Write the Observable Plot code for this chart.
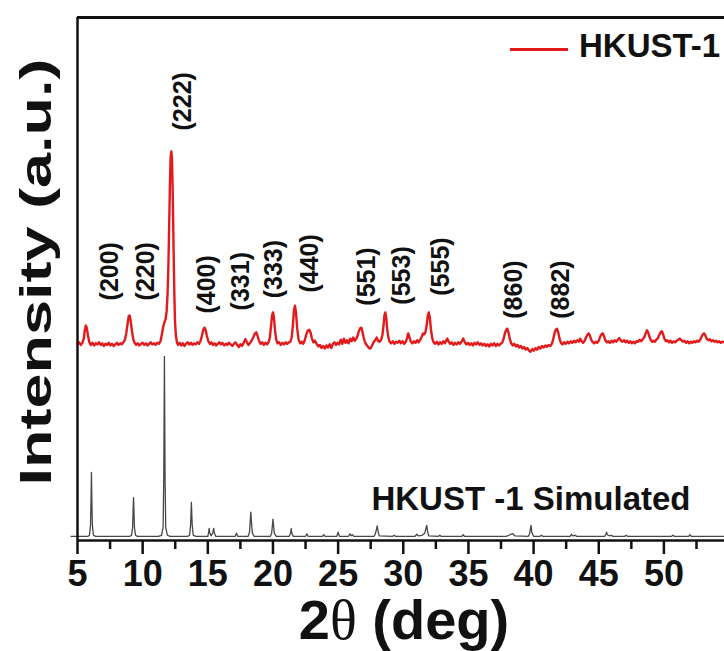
<!DOCTYPE html>
<html><head><meta charset="utf-8">
<script src="https://cdn.jsdelivr.net/npm/d3@7"></script>
<script src="https://cdn.jsdelivr.net/npm/@observablehq/plot@0.6"></script>
<style>
body{margin:0;background:#fff;}
#wrap{position:relative;width:724px;height:651px;overflow:hidden;font-family:"Liberation Sans",Arial,sans-serif;}
#legLine{position:absolute;left:510px;top:48px;width:58px;height:2.5px;background:#e31a1c;}
#legText{position:absolute;left:579px;top:27px;font-weight:bold;font-size:33px;color:#111;line-height:normal;}
</style></head><body>
<div id="wrap"><div id="legLine"></div><div id="legText">HKUST-1</div></div>
<script>
// ---- data (2θ in degrees, intensity in a.u.) ----
const majorTicks = [5, 10, 15, 20, 25, 30, 35, 40, 45, 50];
const minorTicks = [7.5, 12.5, 17.5, 22.5, 27.5, 32.5, 37.5, 42.5, 47.5, 52.5];

const hklLabels = ["(200)","(220)","(222)","(400)","(331)","(333)","(440)","(551)","(553)","(555)","(860)","(882)"];
const hklTheta  = [7.53, 10.29, 13.13, 14.9, 17.58, 20.11, 22.87, 27.24, 29.93, 32.92, 38.51, 42.12];
const hklInt    = [45.9, 45.9, 78.4, 43.4, 44.0, 46.3, 47.4, 44.9, 45.1, 46.8, 42.4, 42.4];

const seriesNames = ["HKUST-1", "HKUST -1 Simulated"];

// measured HKUST-1 pattern [2θ, intensity]
const redPattern = [
[5.0,37.6],[5.12,37.9],[5.25,37.4],[5.38,37.8],[5.48,38.6],[5.56,40.2],[5.64,41.1],[5.72,40.6],[5.8,39.2],[5.9,38.0],[6.02,37.4],[6.15,37.8],[6.28,37.3],[6.4,37.7],[6.52,37.5],[6.65,37.9],[6.78,37.4],[6.9,37.7],[7.02,37.2],[7.15,37.6],[7.28,37.4],[7.4,37.8],[7.52,37.3],[7.65,37.6],[7.78,37.2],[7.9,37.5],[8.02,37.8],[8.15,37.4],[8.28,37.7],[8.4,37.5],[8.52,37.9],[8.64,38.4],[8.74,39.6],[8.84,41.4],[8.93,42.9],[9.0,43.0],[9.08,42.0],[9.17,40.2],[9.27,38.6],[9.38,37.8],[9.5,37.4],[9.62,37.7],[9.75,37.3],[9.88,37.6],[10.0,37.8],[10.12,37.4],[10.25,37.7],[10.38,37.3],[10.5,37.6],[10.62,37.9],[10.75,37.5],[10.88,37.7],[11.0,37.4],[11.12,37.8],[11.25,37.6],[11.38,38.2],[11.48,39.5],[11.58,40.9],[11.68,41.8],[11.76,42.3],[11.84,43.8],[11.91,47.0],[11.98,53.0],[12.04,61.0],[12.1,69.0],[12.15,73.4],[12.2,74.4],[12.25,73.0],[12.3,67.5],[12.36,58.0],[12.42,48.5],[12.48,42.0],[12.55,39.2],[12.63,37.9],[12.72,37.4],
[12.84,37.8],[12.96,37.3],[13.08,37.7],[13.2,37.2],[13.32,37.6],[13.45,37.9],[13.58,37.5],[13.7,37.8],[13.82,37.4],[13.95,37.7],[14.08,37.5],[14.2,37.9],[14.32,37.6],[14.45,38.2],[14.55,39.2],[14.65,40.3],[14.74,40.7],[14.83,40.3],[14.93,39.1],[15.04,38.1],[15.16,37.6],[15.28,37.9],[15.4,37.4],[15.52,37.7],[15.64,37.3],[15.76,37.6],[15.88,37.9],[16.0,37.5],[16.12,37.8],[16.25,37.3],[16.38,37.6],[16.5,37.4],[16.62,37.8],[16.75,37.5],[16.88,37.2],[17.0,37.6],[17.12,37.9],[17.25,37.4],[17.38,37.0],[17.5,37.5],[17.62,37.2],[17.75,37.8],[17.88,38.5],[18.0,37.9],[18.12,37.4],[18.25,37.8],[18.38,38.3],[18.5,38.9],[18.62,39.6],[18.72,39.8],[18.82,39.1],[18.93,38.2],[19.05,37.6],[19.18,37.9],[19.3,37.4],[19.42,37.8],[19.55,37.5],[19.66,37.9],[19.76,38.8],[19.85,41.0],[19.93,43.0],[20.0,43.6],[20.07,42.8],[20.15,40.4],[20.24,38.5],[20.35,37.7],[20.47,37.9],[20.6,37.4],[20.72,37.8],[20.85,37.5],[20.98,37.9],[21.1,37.6],[21.22,37.9],[21.34,38.0],[21.44,38.9],[21.53,41.2],[21.61,44.0],[21.69,44.9],[21.77,43.5],[21.86,40.5],[21.96,38.5],[22.08,37.7],[22.2,38.0],[22.32,37.6],[22.44,38.3],[22.55,39.3],[22.66,40.1],[22.78,40.3],[22.88,39.8],[22.98,38.7],
[23.1,37.9],[23.22,38.2],[23.35,37.6],[23.48,37.1],[23.6,37.4],[23.72,36.8],[23.85,37.2],[23.98,36.7],[24.1,37.3],[24.22,36.9],[24.35,37.5],[24.48,36.8],[24.6,37.6],[24.72,37.9],[24.84,37.4],[24.96,37.8],[25.08,37.5],[25.2,38.4],[25.32,37.6],[25.44,38.6],[25.56,37.8],[25.68,38.3],[25.8,37.7],[25.92,38.6],[26.04,38.1],[26.16,38.8],[26.28,38.2],[26.4,38.6],[26.5,39.2],[26.6,40.1],[26.7,40.6],[26.78,40.7],[26.86,40.0],[26.95,38.9],[27.05,38.0],[27.15,37.5],[27.25,37.2],[27.37,36.8],[27.48,36.7],[27.6,37.3],[27.72,37.9],[27.84,38.3],[27.96,38.8],[28.06,38.2],[28.18,38.0],[28.3,38.4],[28.4,39.3],[28.48,41.0],[28.55,43.0],[28.62,43.6],[28.69,42.7],[28.76,40.6],[28.85,38.9],[28.95,38.0],[29.07,37.7],[29.2,38.1],[29.32,37.6],[29.45,38.0],[29.57,37.8],[29.7,38.2],[29.82,37.7],[29.95,38.1],[30.07,37.6],[30.2,38.0],[30.3,38.8],[30.38,39.6],[30.47,38.9],[30.58,38.0],[30.7,37.7],[30.82,38.1],[30.94,37.8],[31.06,38.3],[31.18,37.9],[31.3,38.4],[31.42,39.0],[31.52,39.6],[31.6,39.4],[31.7,39.8],[31.8,41.2],[31.88,43.0],[31.96,43.6],[32.04,42.6],[32.12,40.4],[32.22,38.7],[32.33,37.9],[32.45,37.6],[32.58,38.0],[32.7,37.5],[32.83,37.9],[32.95,37.6],[33.08,38.1],[33.2,37.7],[33.3,38.3],[33.38,38.6],[33.48,38.0],[33.6,37.6],[33.72,37.9],[33.85,37.4],[33.97,37.8],[34.1,37.5],[34.22,37.9],[34.35,37.6],[34.47,38.0],[34.6,38.6],[34.72,37.9],[34.85,37.5],[34.97,37.8],[35.1,37.4],[35.22,37.7],[35.35,37.3],[35.47,37.8],[35.6,37.5],[35.72,37.9],[35.85,37.4],[35.97,37.7],[36.1,37.3],[36.22,37.6],[36.35,37.2],[36.47,37.5],[36.6,37.1],[36.72,37.6],[36.85,37.3],[36.97,37.7],[37.1,37.2],[37.22,37.6],[37.35,37.3],[37.47,37.6],[37.6,37.9],[37.7,38.6],[37.8,39.6],[37.9,40.3],[37.98,40.5],[38.07,39.8],[38.17,38.6],[38.28,37.7],[38.4,37.3],[38.52,37.6],[38.65,37.1],[38.77,37.4],[38.9,36.9],[39.02,37.2],[39.15,36.7],[39.27,37.0],[39.4,36.5],[39.52,36.8],[39.65,36.3],[39.77,36.1],[39.9,36.6],[40.02,36.3],[40.15,36.8],[40.27,36.5],[40.4,37.0],[40.52,36.7],[40.65,37.2],[40.77,36.9],[40.9,37.3],[41.02,37.0],[41.15,37.4],[41.28,37.2],[41.4,37.6],[41.5,38.4],[41.6,39.6],[41.7,40.3],[41.8,40.5],[41.9,39.7],[42.0,38.5],[42.1,37.8],[42.22,37.5],[42.35,37.9],[42.47,37.6],[42.6,38.0],[42.72,37.7],[42.85,38.1],[42.97,37.8],[43.1,38.2],[43.22,37.9],[43.35,38.3],[43.47,38.0],[43.57,38.6],[43.68,38.1],[43.8,37.8],[43.92,38.2],[44.02,38.8],[44.12,39.3],[44.22,39.6],[44.32,39.2],[44.42,38.4],[44.52,38.0],[44.64,37.7],[44.76,38.0],[44.88,37.8],[45.0,38.2],[45.1,38.9],[45.2,39.4],[45.3,39.6],[45.4,39.1],[45.5,38.3],[45.62,37.9],[45.74,38.1],[45.86,37.8],[45.98,38.2],[46.1,37.9],[46.22,38.3],[46.34,38.0],[46.46,38.4],[46.58,38.7],[46.7,38.2],[46.82,38.0],[46.94,38.3],[47.06,37.9],[47.18,38.2],[47.3,37.8],[47.42,38.1],[47.54,37.7],[47.66,38.0],[47.78,37.7],[47.9,38.1],[48.02,38.0],[48.14,38.4],[48.26,38.1],[48.38,38.5],[48.5,38.9],[48.6,39.6],[48.7,40.2],[48.8,39.7],[48.9,38.9],[49.0,38.3],[49.1,38.0],[49.2,38.2],[49.3,38.0],[49.42,38.4],[49.54,38.7],[49.64,39.3],[49.74,39.8],[49.84,40.0],[49.94,39.4],[50.04,38.6],[50.15,38.1],[50.26,38.3],[50.38,37.9],[50.5,38.2],[50.62,37.8],[50.74,38.1],[50.86,37.9],[50.98,38.2],[51.1,38.4],[51.22,38.6],[51.34,38.3],[51.46,38.0],[51.58,38.2],[51.7,37.8],[51.82,38.1],[51.94,37.7],[52.06,38.0],[52.18,37.8],[52.3,38.1],[52.42,37.9],[52.54,38.2],[52.66,38.0],[52.78,38.4],[52.88,38.9],[52.98,39.4],[53.08,39.6],[53.18,39.2],[53.28,38.6],[53.4,38.3],[53.52,38.5],[53.64,38.1],[53.76,38.3],[53.88,38.0],[54.0,38.2],[54.12,37.9],[54.24,38.1],[54.36,37.8],[54.48,38.0],[54.65,37.9]
];

// simulated HKUST-1 pattern [2θ, intensity]
const simPattern = [
[4.5,0.8],[5.8,0.8],[5.92,1.0],[6.0,3.0],[6.04,8.0],[6.07,13.0],[6.1,8.0],[6.14,3.0],[6.22,1.0],[6.4,0.8],
[9.0,0.8],[9.15,1.0],[9.23,2.5],[9.27,6.0],[9.3,8.2],[9.33,6.0],[9.37,2.5],[9.45,1.0],[9.6,0.8],
[11.2,0.8],[11.45,1.0],[11.57,2.5],[11.62,12.0],[11.67,35.2],[11.72,12.0],[11.77,2.5],[11.9,1.0],[12.1,0.8],
[13.45,0.8],[13.6,1.0],[13.68,3.0],[13.74,7.3],[13.8,3.0],[13.88,1.0],[14.1,0.8],
[15.0,0.8],[15.06,1.5],[15.1,2.3],[15.15,1.5],[15.25,0.9],[15.38,1.4],[15.45,2.3],[15.5,1.5],[15.6,0.8],
[17.1,0.8],[17.2,1.4],[17.3,0.8],
[18.1,0.8],[18.2,1.6],[18.25,3.5],[18.3,5.4],[18.35,3.5],[18.42,1.4],[18.55,0.8],
[19.8,0.8],[19.9,1.4],[19.96,3.0],[20.0,4.1],[20.04,3.0],[20.1,1.4],[20.25,0.8],
[21.25,0.8],[21.35,1.4],[21.4,2.3],[21.45,1.4],[21.55,0.8],
[22.5,0.8],[22.6,1.3],[22.7,0.8],
[23.8,0.8],[23.9,1.1],[24.0,0.8],
[24.9,0.8],[25.0,1.6],[25.1,0.8],
[25.8,0.8],[25.9,1.3],[26.0,0.9],[26.1,1.1],[26.2,0.8],
[27.75,0.8],[27.85,1.2],[27.95,2.2],[28.0,2.8],[28.05,2.0],[28.15,0.9],
[29.2,0.8],[29.3,1.0],[29.4,0.8],
[30.9,0.8],[31.05,1.2],[31.15,0.9],[31.45,1.0],[31.65,1.4],[31.75,2.4],[31.8,2.9],[31.86,1.8],[31.95,0.9],
[32.7,0.8],[32.8,1.0],[32.9,0.8],
[34.5,0.8],[34.6,1.1],[34.7,0.8],
[37.9,0.8],[38.1,1.0],[38.4,1.3],[38.55,0.9],
[39.6,0.8],[39.7,1.4],[39.8,2.9],[39.86,1.6],[40.0,0.8],
[40.5,0.8],[40.6,1.0],[40.7,0.8],
[42.8,0.8],[42.9,1.2],[43.0,0.9],[43.2,1.0],[43.3,0.8],
[45.45,0.8],[45.55,1.2],[45.6,1.6],[45.66,1.1],[45.8,0.9],[45.95,1.0],[46.1,0.8],
[47.0,0.8],[47.1,1.0],[47.2,0.8],
[50.6,0.8],[50.7,1.0],[50.8,0.8],
[51.9,0.8],[52.0,1.1],[52.1,0.8],
[54.65,0.8]
];

const xLabel = "2θ (deg)";
const yLabel = "Intensity (a.u.)";

const labelRows = hklLabels.map((t, i) => ({t, x: hklTheta[i], y: hklInt[i]}));

const FONT = "Liberation Sans, Arial, Helvetica, sans-serif";

const chart = Plot.plot({
  width: 724, height: 651,
  marginLeft: 77, marginRight: 0, marginTop: 17, marginBottom: 111,
  style: {fontFamily: FONT, background: "white", color: "#111", overflow: "visible"},
  x: {domain: [5, 54.65]},
  y: {domain: [0, 100], axis: null},
  marks: [
    Plot.axisX(minorTicks, {tickSize: 9, strokeWidth: 2.5, tickFormat: () => "", label: null}),
    Plot.axisX(majorTicks, {tickSize: 14, tickPadding: 6, strokeWidth: 2.5, fontSize: 36, fontWeight: "bold", label: null}),
    Plot.line(simPattern, {x: d => d[0], y: d => d[1], stroke: "#474747", strokeWidth: 1.3}),
    Plot.line(redPattern, {x: d => d[0], y: d => d[1], stroke: "#e31a1c", strokeWidth: 2.4}),
    Plot.ruleY([0], {strokeWidth: 2.5}),
    Plot.ruleY([100], {strokeWidth: 3}),
    Plot.ruleX([5], {strokeWidth: 2.5}),
    Plot.text(labelRows, {x: "x", y: "y", text: "t", rotate: -90, textAnchor: "start", fontSize: 25, fontWeight: "bold", fill: "#111"}),
    Plot.text([seriesNames[1]], {frameAnchor: "bottom-right", textAnchor: "end", lineAnchor: "middle", dx: -34, dy: -41, fontSize: 33, fontWeight: "bold", fill: "#111"}),
    Plot.text([yLabel], {frameAnchor: "left", rotate: -90, textAnchor: "middle", lineAnchor: "middle", dx: -41, dy: -7, fontSize: 45, fontWeight: "bold", fill: "#111"}),
    Plot.text([xLabel], {frameAnchor: "bottom", lineAnchor: "middle", dx: 3, dy: 81, fontSize: 56, fontWeight: "bold", fill: "#111"})
  ]
});

document.getElementById("wrap").prepend(chart);
document.getElementById("legText").textContent = seriesNames[0];

// stretch y label along its reading direction; theta glyph in a thinner serif face
d3.select(chart).selectAll("text").each(function() {
  const el = d3.select(this);
  const s = this.textContent;
  if (s === yLabel) {
    const t = el.attr("transform") || "";
    el.attr("transform", t + " scale(1.4,1)");
  } else if (s === xLabel) {
    el.text(null);
    el.append("tspan").text("2");
    el.append("tspan").attr("font-weight", "normal").attr("font-family", "Liberation Serif, serif").text("θ");
    el.append("tspan").text(" (deg)");
  }
});
</script>
</body></html>
